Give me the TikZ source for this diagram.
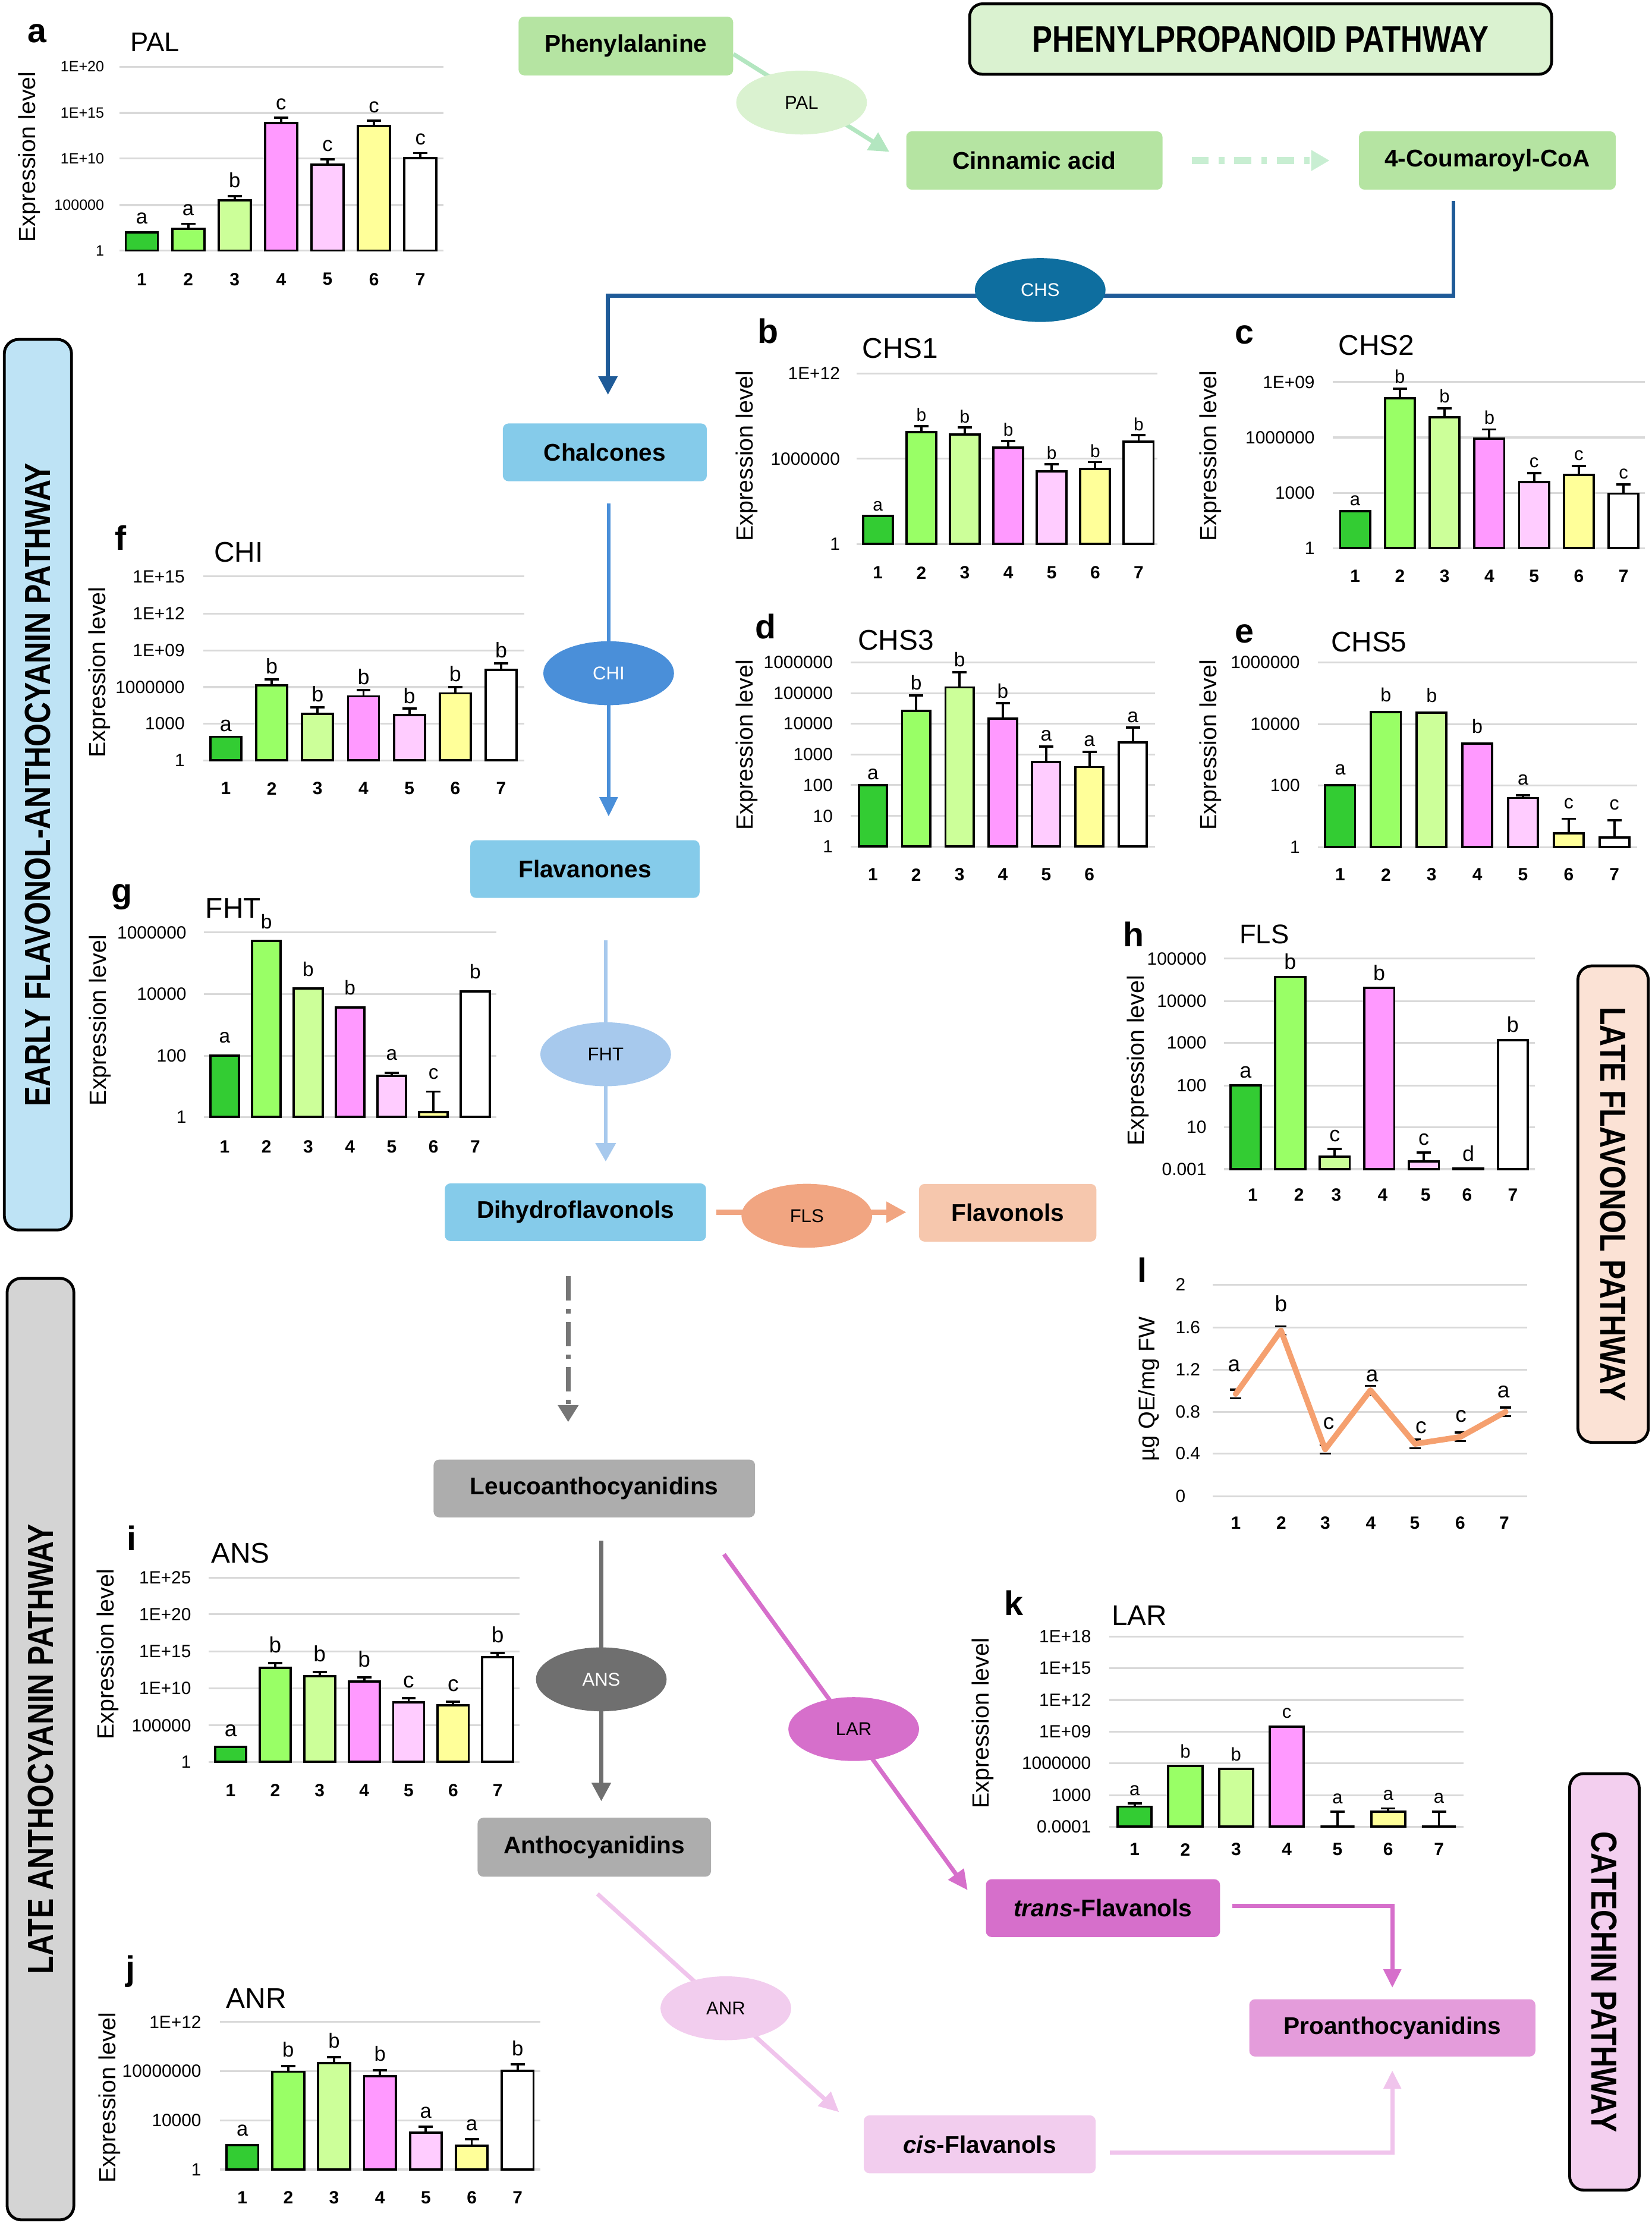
\documentclass[tikz,border=0pt]{standalone}
\usepackage{fontspec}
\setmainfont{Liberation Sans}
\newfontfamily\narrowf[FakeStretch=0.82]{Liberation Sans}
\usetikzlibrary{shapes.geometric,arrows.meta,backgrounds}
\newcommand\myfs[1]{\fontsize{#1}{#1}\selectfont}
\definecolor{bc1}{HTML}{33CC33}
\definecolor{bc2}{HTML}{99FF66}
\definecolor{bc3}{HTML}{CCFF99}
\definecolor{bc4}{HTML}{FF99FF}
\definecolor{bc5}{HTML}{FFCCFF}
\definecolor{bc6}{HTML}{FFFF99}
\definecolor{bc7}{HTML}{FFFFFF}
\definecolor{gridgray}{HTML}{D9D9D9}
\definecolor{phgreen}{HTML}{B5E4A2}
\definecolor{hdrgreen}{HTML}{DAF2D0}
\definecolor{palarrow}{HTML}{B3E6C0}
\definecolor{dashgreen}{HTML}{C8EED2}
\definecolor{chsline}{HTML}{1F5B98}
\definecolor{chsfill}{HTML}{0E6E9F}
\definecolor{skyblue}{HTML}{85CBEA}
\definecolor{chiblue}{HTML}{4A8FD9}
\definecolor{fhtblue}{HTML}{A7C9ED}
\definecolor{flsorange}{HTML}{F1A581}
\definecolor{flvfill}{HTML}{F6C7AD}
\definecolor{grayarrow}{HTML}{767676}
\definecolor{grayfill}{HTML}{ADADAD}
\definecolor{ansgray}{HTML}{6F6F6F}
\definecolor{larmag}{HTML}{D66FCB}
\definecolor{anrpink}{HTML}{F2CDEE}
\definecolor{anrline}{HTML}{F0C4EC}
\definecolor{profill}{HTML}{E49CDB}
\definecolor{earlyblue}{HTML}{BEE3F5}
\definecolor{lategray}{HTML}{D4D4D4}
\definecolor{lateflv}{HTML}{FBE2D5}
\definecolor{catpink}{HTML}{F3CFEF}
\definecolor{qorange}{HTML}{F5A06F}
\def\lfs{14}
\def\lgap{3.5pt}
\def\capw{5}
\tikzset{
  gridsty/.style={draw=gridgray, line width=1.3pt},
  barsty/.style={draw=black, line width=1.6pt},
  errsty/.style={draw=black, line width=1.6pt},
  tick/.style={anchor=east, inner sep=0pt, font=\myfs{12.5}},
  xlab/.style={inner sep=0pt, font=\myfs{12.5}\bfseries},
  panel/.style={inner sep=0pt, font=\myfs{24}\bfseries},
  ctitle/.style={inner sep=0pt, font=\myfs{20}},
  ylab/.style={inner sep=0pt, rotate=90, font=\myfs{16.5}},
  lett/.style={anchor=south, inner sep=0pt, yshift=\lgap, font=\myfs{\lfs}},
  lettc/.style={inner sep=0pt, font=\myfs{15.5}},
  flowbox/.style={rectangle, rounded corners=4pt, inner sep=0pt, font=\myfs{17}\bfseries},
  enz/.style={ellipse, minimum width=92pt, minimum height=45pt, inner sep=0pt, font=\myfs{13}},
  sidebox/.style={draw=black, line width=2pt, rounded corners=10pt, inner sep=0pt, font=\narrowf\myfs{25.5}\bfseries},
}
\newcommand\gridset[4]{%
  \foreach \yy/\lab in {#4}{%
    \draw[gridsty] (#1,\yy) -- (#2,\yy);
    \node[tick] at (#3,\yy) {\lab};}}
\newcommand\barset[5]{%
  \foreach \bi/\btop/\berr/\blet in {#5}{%
    \pgfmathsetmacro\xc{#1+(\bi-1)*(#2)}%
    \filldraw[barsty, fill=bc\bi] (\xc-#4,#3) rectangle (\xc+#4,\btop);
    \draw[errsty] (\xc,\btop) -- (\xc,\berr) (\xc-\capw,\berr) -- (\xc+\capw,\berr);
    \node[lett] at (\xc,\berr) {\blet};}}
\newcommand\xlabs[4]{%
  \foreach \i in {1,...,#4}{\node[xlab] at ({#1+(\i-1)*(#2)},#3) {\i};}}
\begin{document}
\begin{tikzpicture}[x=1pt,y=-1pt]
\useasboundingbox (0,0) rectangle (1163,1565.2);

% ---------- side labels ----------
\node[sidebox, fill=earlyblue, rotate=90, minimum width=627pt, minimum height=47.3pt] (early) at (26.7,552.5) {EARLY FLAVONOL-ANTHOCYANIN PATHWAY};
\node[sidebox, fill=lategray, rotate=90, minimum width=663pt, minimum height=47pt] (lateant) at (28.5,1231.5) {LATE ANTHOCYANIN PATHWAY};
\node[sidebox, fill=lateflv, rotate=-90, minimum width=335.5pt, minimum height=49.6pt] (lateflvbox) at (1135.6,847.8) {LATE FLAVONOL PATHWAY};
\node[sidebox, fill=catpink, rotate=-90, minimum width=293.3pt, minimum height=49pt] (catechin) at (1129.5,1395.4) {CATECHIN PATHWAY};

% ---------- header ----------
\node[draw=black, line width=2pt, rounded corners=9pt, fill=hdrgreen, minimum width=409.7pt, minimum height=49.6pt, inner sep=0pt, font=\narrowf\myfs{26}\bfseries] (hdr) at (887.5,27.5) {PHENYLPROPANOID PATHWAY};

% ---------- pathway boxes ----------
\node[flowbox, fill=phgreen, minimum width=151.1pt, minimum height=41.3pt] (phe) at (440.6,32.4) {Phenylalanine};
\node[flowbox, fill=phgreen, minimum width=180.4pt, minimum height=41.1pt] (cin) at (728.2,113) {Cinnamic acid};
\node[flowbox, fill=phgreen, minimum width=180.8pt, minimum height=41.1pt] (coa) at (1047.1,113) {4-Coumaroyl-CoA};
\node[flowbox, fill=skyblue, minimum width=143.6pt, minimum height=40.7pt] (chal) at (425.8,318.5) {Chalcones};
\node[flowbox, fill=skyblue, minimum width=161.4pt, minimum height=40.6pt] (flav) at (411.8,611.9) {Flavanones};
\node[flowbox, fill=skyblue, minimum width=183.9pt, minimum height=40.6pt] (dihy) at (405.1,853.5) {Dihydroflavonols};
\node[flowbox, fill=flvfill, minimum width=124.9pt, minimum height=40.6pt] (flvn) at (709.4,853.9) {Flavonols};
\node[flowbox, fill=grayfill, minimum width=226.3pt, minimum height=40.7pt] (leuco) at (418.4,1048) {Leucoanthocyanidins};
\node[flowbox, fill=grayfill, minimum width=164.3pt, minimum height=41.5pt] (antho) at (418.4,1300.6) {Anthocyanidins};
\node[flowbox, fill=larmag, minimum width=164.8pt, minimum height=40.7pt] (trans) at (776.5,1343.5) {\textit{trans}-Flavanols};
\node[flowbox, fill=anrpink, minimum width=163.2pt, minimum height=40.8pt] (cis) at (689.7,1509.8) {\textit{cis}-Flavanols};
\node[flowbox, fill=profill, minimum width=201.4pt, minimum height=40.3pt] (pro) at (980.2,1427.8) {Proanthocyanidins};

% ---------- enzymes ----------
\node[enz, fill=hdrgreen] (pal) at (564.3,72.2) {PAL};
\node[enz, fill=chsfill, text=white] (chs) at (732.3,204.2) {CHS};
\node[enz, fill=chiblue, text=white] (chi) at (428.5,474) {CHI};
\node[enz, fill=fhtblue] (fht) at (426.4,742.3) {FHT};
\node[enz, fill=flsorange] (fls) at (568,856) {FLS};
\node[enz, fill=ansgray, text=white] (ans) at (423.3,1182.4) {ANS};
\node[enz, fill=larmag] (lar) at (601,1217.4) {LAR};
\node[enz, fill=anrpink] (anr) at (511,1414) {ANR};

% ---------- connectors ----------
\begin{pgfonlayer}{background}
\draw[line width=3pt, palarrow, -{Triangle[length=14pt,width=14pt]}] ([yshift=-5.7pt]phe.east) -- ([xshift=-11.7pt,yshift=6.1pt]cin.west);
\draw[line width=5pt, dashgreen, dash pattern=on 12pt off 7pt on 4pt off 7pt, -{Triangle[length=13pt,width=14pt]}, shorten <=20.4pt, shorten >=20.5pt] (cin.east) -- (coa.west);
\coordinate (chsturn) at (428,208.3);
\draw[line width=2.8pt, chsline, -{Triangle[length=13pt,width=13pt]}, shorten >=20pt] ([xshift=-23.9pt,yshift=-7.7pt]coa.south) |- (chsturn) -- (chsturn |- chal.north);
\draw[line width=2.5pt, chiblue, -{Triangle[length=13.5pt,width=12.5pt]}, shorten <=15.5pt, shorten >=16.6pt] (chal.south -| chi) -- (flav.north -| chi);
\draw[line width=2.5pt, fhtblue, -{Triangle[length=13pt,width=14pt]}, shorten <=29.8pt, shorten >=15.2pt] (flav.south -| fht) -- (dihy.north -| fht);
\draw[line width=3.5pt, flsorange, -{Triangle[length=14pt,width=14pt]}, shorten <=6.9pt, shorten >=8.7pt] (dihy.east) -- (dihy.east -| flvn.west);
\coordinate (gtop) at ([xshift=-5.1pt]dihy.south);
\draw[line width=3.5pt, grayarrow, dash pattern=on 17pt off 6pt on 3pt off 6pt, -{Triangle[length=12pt,width=14pt]}, shorten <=24.7pt, shorten >=26.2pt] (gtop) -- (gtop |- leuco.north);
\draw[line width=3pt, ansgray, -{Triangle[length=13pt,width=13pt]}, shorten <=16.2pt, shorten >=11.4pt] (leuco.south -| ans) -- (antho.north -| ans);
\draw[line width=3pt, larmag, -{Triangle[length=14pt,width=13pt]}] ([xshift=-22.1pt,yshift=-25.8pt]leuco.south east) -- ([xshift=-12.7pt,yshift=-7.9pt]trans.north west);
\draw[line width=3pt, anrline, -{Triangle[length=14pt,width=13pt]}] ([xshift=2.2pt,yshift=-11.9pt]antho.south) -- ([xshift=-17.2pt,yshift=2.1pt]cis.north west);
\draw[line width=3pt, larmag, -{Triangle[length=13pt,width=12pt]}, shorten >=7.9pt] ([xshift=8.3pt,yshift=1.5pt]trans.east) -| (pro.north);
\draw[line width=3pt, anrline, -{Triangle[length=13pt,width=12pt]}, shorten >=9.6pt] ([xshift=10pt,yshift=-5.9pt]cis.east) -| (pro.south);
\end{pgfonlayer}

% ---------- a: PAL ----------
\begin{scope}[tick/.append style={font=\myfs{10.5}}]
\gridset{84}{312}{73.5}{47/1E+20, 79.5/1E+15, 111.6/1E+10, 144.4/100000, 176.4/1}
\end{scope}
\def\lfs{14.5}\def\lgap{5.5pt}
\barset{99.8}{32.7}{176.4}{11.3}{1/163.6/163.6/a, 2/161/157.6/a, 3/141/138/b, 4/86.5/83/c, 5/115.8/112.3/c, 6/88.6/85/c, 7/111.2/107.8/c}
\xlabs{99.8}{32.7}{196.6}{7}
\node[panel] at (26.3,23.4) {a};
\node[ctitle, font=\myfs{19}] at (109,29.8) {PAL};
\node[ylab] at (20.8,110.5) {Expression level};

% ---------- b: CHS1 ----------
\gridset{603}{815}{591.5}{262.9/1E+12, 323/1000000, 383/1}
\def\lfs{12.5}\def\lgap{3pt}
\barset{618}{30.6}{383}{10.5}{1/363.1/363.1/a, 2/304.4/299.9/b, 3/305.9/301/b, 4/315.3/310.4/b, 5/331.7/326.8/b, 6/330.3/325.4/b, 7/311.1/306.5/b}
\xlabs{618}{30.6}{403.3}{7}
\node[panel] at (540.8,233) {b};
\node[ctitle] at (633.9,245.2) {CHS1};
\node[ylab] at (525.8,320.9) {Expression level};

% ---------- c: CHS2 ----------
\gridset{938.3}{1158}{925.7}{269/1E+09, 308/1000000, 347/1000, 386/1}
\def\lfs{13}\def\lgap{3.5pt}
\barset{954}{31.5}{386}{10.5}{1/359.9/359.9/a, 2/280.4/273.7/b, 3/293.9/287.4/b, 4/309/302.4/b, 5/339.3/333.1/c, 6/334.5/328.1/c, 7/347.6/341.1/c}
\xlabs{954}{31.5}{405.5}{7}
\node[panel] at (876.1,235.7) {c};
\node[ctitle] at (969,243.1) {CHS2};
\node[ylab] at (852,320.9) {Expression level};

% ---------- d: CHS3 ----------
\gridset{599}{813.2}{586.5}{466.4/1000000, 488/100000, 509.6/10000, 531.2/1000, 552.8/100, 574.5/10, 596.1/1}
\def\lfs{14}\def\lgap{3.5pt}
\barset{614.5}{30.5}{596.1}{9.9}{1/552.8/552.8/a, 2/500.5/489.6/b, 3/484/473.3/b, 4/506/495.2/b, 5/536.4/525.5/a, 6/540.1/529.4/a, 7/522.8/512.4/a}
\xlabs{614.5}{30.5}{615.9}{6}
\node[panel] at (539,441.2) {d};
\node[ctitle] at (630.7,450.6) {CHS3};
\node[ylab] at (525.8,524.5) {Expression level};

% ---------- e: CHS5 ----------
\gridset{927.8}{1152.5}{915.3}{466.4/1000000, 509.9/10000, 553.1/100, 596.4/1}
\def\lfs{13.5}\def\lgap{7pt}
\barset{943.5}{32.17}{596.4}{10.5}{1/552.8/552.8/a, 2/501.2/501.2/b, 3/501.9/501.9/b, 4/523.5/523.5/b, 5/561.8/560/a, 6/586.6/576.5/c, 7/589.8/577.5/c}
\xlabs{943.5}{32.17}{615.9}{7}
\node[panel] at (876,446.4) {e};
\node[ctitle] at (963.7,452) {CHS5};
\node[ylab] at (852,524.5) {Expression level};

% ---------- f: CHI ----------
\gridset{143}{369}{130.2}{405.9/1E+15, 432/1E+12, 458/1E+09, 483.8/1000000, 509.6/1000, 535.4/1}
\def\lfs{15}\def\lgap{3.5pt}
\barset{159}{32.3}{535.4}{10.9}{1/518.7/518.7/a, 2/482.7/478.2/b, 3/502.5/498/b, 4/490.3/485.9/b, 5/503.3/499/b, 6/488.2/483.8/b, 7/471.5/467/b}
\xlabs{159}{32.3}{555.2}{7}
\node[panel] at (84.8,378.7) {f};
\node[ctitle] at (167.9,388.9) {CHI};
\node[ylab] at (70,473.3) {Expression level};

% ---------- g: FHT ----------
\gridset{143.5}{349.6}{131.4}{656.6/1000000, 699.9/10000, 743.3/100, 786.5/1}
\def\lfs{14}\def\lgap{8.5pt}
\barset{158.2}{29.4}{786.5}{10.1}{1/743.3/743.3/a, 2/662.6/662.6/b, 3/696.1/696.1/b, 4/709.3/709.3/b, 5/757.5/755.4/a, 6/782.9/768.6/c, 7/697.9/697.9/b}
\xlabs{158.2}{29.4}{807.5}{7}
\node[panel] at (85.6,631.6) {g};
\node[ctitle] at (164.2,639.3) {FHT};
\node[ylab] at (70.5,718.4) {Expression level};

% ---------- h: FLS ----------
\gridset{861.8}{1080.6}{849.5}{675/100000, 704.9/10000, 734.3/1000, 764.2/100, 793.6/10, 823.2/0.001}
\def\lfs{15}\def\lgap{5pt}
\barset{876.9}{31.36}{823.2}{10.6}{1/764.2/764.2/a, 2/687.8/687.8/b, 3/814.4/809.1/c, 4/695.5/695.5/b, 5/817.9/811.5/c, 6/822.9/822.9/d, 7/732.2/732.2/b}
\foreach \i/\xx in {1/882, 2/914.5, 3/940.8, 4/973.4, 5/1003.6, 6/1032.8, 7/1065} \node[xlab] at (\xx,841.4) {\i};
\node[panel] at (798,657.9) {h};
\node[ctitle, font=\myfs{19}] at (890,657.9) {FLS};
\node[ylab] at (801,746.7) {Expression level};

% ---------- l: flavonol content ----------
\begin{scope}[tick/.append style={anchor=west}]
\gridset{853.9}{1075.2}{827.4}{904.5/2, 934.8/1.6, 964.4/1.2, 994/0.8, 1023.4/0.4, 1053.4/0}
\end{scope}
\coordinate (p1) at (869.9,981.5);
\coordinate (p2) at (901.8,936.8);
\coordinate (p3) at (932.9,1020.5);
\coordinate (p4) at (964.8,978.8);
\coordinate (p5) at (996.2,1016.6);
\coordinate (p6) at (1028.1,1011.7);
\coordinate (p7) at (1060,994);
\foreach \i in {1,...,7}
  \draw[errsty, line width=1.5pt] ([xshift=-4pt,yshift=3pt]p\i) -- ([xshift=4pt,yshift=3pt]p\i) ([xshift=-4pt,yshift=-3pt]p\i) -- ([xshift=4pt,yshift=-3pt]p\i);
\draw[qorange, line width=4pt, line join=round, line cap=round] (p1) -- (p2) -- (p3) -- (p4) -- (p5) -- (p6) -- (p7);
\node[lettc] at (868.8,961.7) {a};
\node[lettc] at (901.8,917.7) {b};
\node[lettc] at (935.4,1002) {c};
\node[lettc] at (966,968.5) {a};
\node[lettc] at (1000.4,1005.2) {c};
\node[lettc] at (1028.5,997) {c};
\node[lettc] at (1058.5,980.2) {a};
\foreach \i/\xx in {1/870, 2/902, 3/933, 4/965, 5/996, 6/1028, 7/1059} \node[xlab] at (\xx,1072.4) {\i};
\node[panel] at (804.2,894.2) {l};
\node[ylab, font=\myfs{16}] at (809,977.9) {µg QE/mg FW};

% ---------- i: ANS ----------
\gridset{146.8}{365.9}{134.7}{1110.8/1E+25, 1136.6/1E+20, 1162.7/1E+15, 1188.8/1E+10, 1214.8/100000, 1240.5/1}
\def\lfs{15.5}\def\lgap{7pt}
\barset{162.4}{31.33}{1240.5}{10.9}{1/1230/1230/a, 2/1174.2/1171.1/b, 3/1180.2/1177.4/b, 4/1183.9/1181.1/b, 5/1198.6/1195.5/c, 6/1200.8/1198.3/c, 7/1166.6/1163.8/b}
\xlabs{162.4}{31.33}{1260.7}{7}
\node[panel] at (92.6,1082.9) {i};
\node[ctitle] at (169.2,1093.7) {ANS};
\node[ylab] at (75.8,1164.8) {Expression level};

% ---------- j: ANR ----------
\gridset{154.7}{380.4}{141.9}{1423.6/1E+12, 1458.2/10000000, 1492.9/10000, 1527.5/1}
\def\lfs{14.5}\def\lgap{6pt}
\barset{170.6}{32.3}{1527.5}{11.2}{1/1510.4/1510.4/a, 2/1458.7/1454.6/b, 3/1452.6/1448.4/b, 4/1461.7/1457.5/b, 5/1501.7/1497.5/a, 6/1510.8/1506.3/a, 7/1458.1/1453.6/b}
\xlabs{170.6}{32.3}{1547.4}{7}
\node[panel] at (92,1388) {j};
\node[ctitle] at (180.5,1407.2) {ANR};
\node[ylab] at (77.3,1476.9) {Expression level};

% ---------- k: LAR ----------
\gridset{780.8}{1030.5}{768.3}{1152.3/1E+18, 1174.6/1E+15, 1196.9/1E+12, 1219.2/1E+09, 1241.5/1000000, 1263.9/1000, 1286.2/0.0001}
\def\lfs{13}\def\lgap{5.5pt}
\barset{798.8}{35.7}{1286.2}{12}{1/1272/1269.7/a, 2/1243.4/1243.4/b, 3/1245.5/1245.5/b, 4/1215.7/1215.7/c, 5/1286.2/1275.7/a, 6/1275.7/1273.3/a, 7/1286.2/1275.5/a}
\xlabs{798.8}{35.7}{1302.2}{7}
\node[panel] at (713.7,1128.5) {k};
\node[ctitle] at (802.2,1137.3) {LAR};
\node[ylab] at (691.8,1213.3) {Expression level};
\end{tikzpicture}
\end{document}
